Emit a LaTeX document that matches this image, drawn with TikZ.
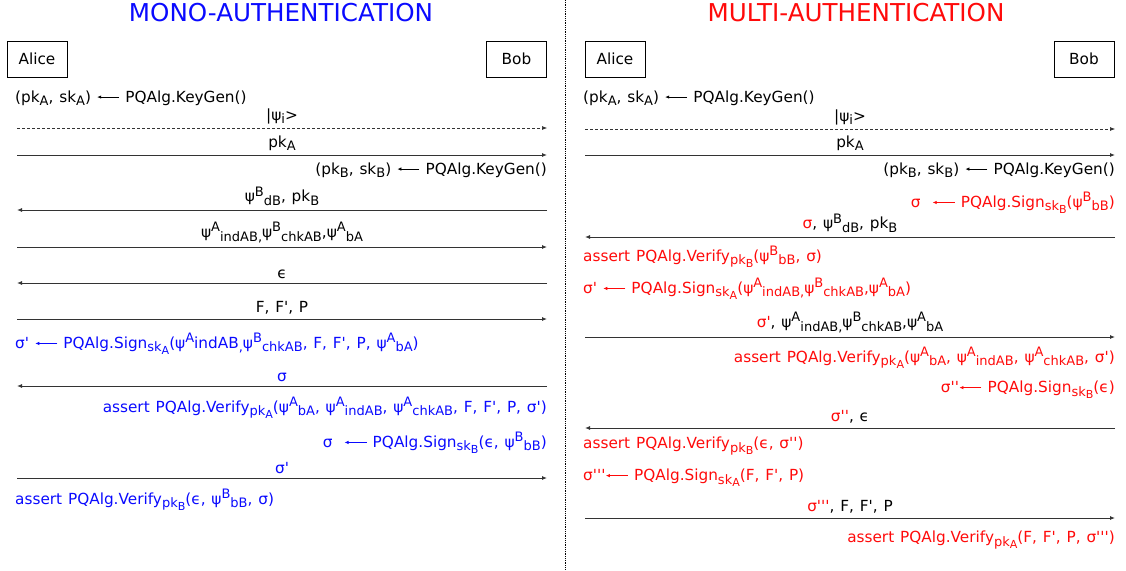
\documentclass[tikz,border=0pt]{standalone}
\usepackage{fontspec}
\usepackage{graphicx}
\newfontfamily\verd{DejaVu Sans}[WordSpace=1.2]
\usetikzlibrary{arrows.meta,positioning}
\definecolor{monoblue}{RGB}{10,10,255}
\definecolor{multired}{RGB}{255,10,10}
\tikzset{
  txt/.style      = {font=\verd\fontsize{15.3}{18}\selectfont, inner sep=0pt},
  actor/.style    = {draw, line width=0.6pt, txt, minimum width=60pt, minimum height=36pt},
  title/.style    = {font=\verd\fontsize{24.6}{28}\selectfont, inner sep=0pt},
  msg/.style      = {-{Latex[length=5pt,width=4pt]}, line width=0.9pt, black!80},
  qmsg/.style     = {msg, densely dashed, line width=0.6pt},
  msglabel/.style = {txt, above=4pt, black},
  divider/.style  = {densely dotted, line width=0.8pt},
}
\newcommand{\sbs}[1]{\raisebox{-3.4pt}{\scalebox{0.85}{#1}}}
\newcommand{\sps}[1]{\raisebox{5.8pt}{\scalebox{0.85}{#1}}}
\newcommand{\asgn}{\tikz[baseline=-0.33em]\draw[draw=., line width=0.7pt,
    -{Latex[length=4pt,width=3.5pt]}] (22pt,0pt) -- (0pt,0pt);}

\begin{document}
\begin{tikzpicture}[x=1pt,y=-1pt]
  \useasboundingbox (0,0) rectangle (1126,570);

  \draw[divider] (565,0) -- (565,570);

  % ---------------- mono-authentication -----------------------------------
  \node[title,text=monoblue] (monotitle) at (281,13) {MONO-AUTHENTICATION};
  \node[actor] (alice1) at (37,59) {Alice};
  \node[actor] (bob1) at (516.5,59) {Bob};

  \node[txt,anchor=west] (kgA1) at (15,98) {(pk\sbs{A}, sk\sbs{A}) \asgn{} PQAlg.KeyGen()};

  \coordinate (a1) at (17,128);  \coordinate (b1) at (547,128);
  \draw[qmsg] (a1) -- (b1) node[msglabel,midway] (l1) {|ψ\sbs{i}>};

  \coordinate (a2) at (17,155);  \coordinate (b2) at (547,155);
  \draw[msg] (a2) -- (b2) node[msglabel,midway] (l2) {pk\sbs{A}};

  \node[txt,anchor=east] (kgB1) at (547,170) {(pk\sbs{B}, sk\sbs{B}) \asgn{} PQAlg.KeyGen()};

  \coordinate (a3) at (17,210);  \coordinate (b3) at (547,210);
  \draw[msg] (b3) -- (a3) node[msglabel,midway] (l3) {ψ\sps{B}\sbs{dB}, pk\sbs{B}};

  \coordinate (a4) at (17,247);  \coordinate (b4) at (547,247);
  \draw[msg] (a4) -- (b4) node[msglabel,midway] (l4)
    {ψ\sps{A}\sbs{indAB,}ψ\sps{B}\sbs{chkAB},ψ\sps{A}\sbs{bA}};

  \coordinate (a5) at (17,283);  \coordinate (b5) at (547,283);
  \draw[msg] (b5) -- (a5) node[msglabel,midway] (l5) {ϵ};

  \coordinate (a6) at (17,319);  \coordinate (b6) at (547,319);
  \draw[msg] (a6) -- (b6) node[msglabel,midway] (l6) {F, F', P};

  \node[txt,anchor=west,text=monoblue] (signA1) at (15,344)
    {σ' \asgn{} PQAlg.Sign\sbs{sk\sbs{A}}(ψ\sps{A}indAB\sbs{,}ψ\sps{B}\sbs{chkAB}, F, F', P, ψ\sps{A}\sbs{bA})};

  \coordinate (a7) at (17,386);  \coordinate (b7) at (547,386);
  \draw[msg] (b7) -- (a7) node[msglabel,midway,text=monoblue] (l7) {σ};

  \node[txt,anchor=east,text=monoblue] (verB1) at (547,408)
    {assert PQAlg.Verify\sbs{pk\sbs{A}}(ψ\sps{A}\sbs{bA}, ψ\sps{A}\sbs{indAB}, ψ\sps{A}\sbs{chkAB}, F, F', P, σ')};
  \node[txt,anchor=east,text=monoblue] (signB1) at (547,443)
    {σ \ \asgn{} PQAlg.Sign\sbs{sk\sbs{B}}(ϵ, ψ\sps{B}\sbs{bB})};

  \coordinate (a8) at (17,478);  \coordinate (b8) at (547,478);
  \draw[msg] (a8) -- (b8) node[msglabel,midway,text=monoblue] (l8) {σ'};

  \node[txt,anchor=west,text=monoblue] (verA1) at (15,500)
    {assert PQAlg.Verify\sbs{pk\sbs{B}}(ϵ, ψ\sps{B}\sbs{bB}, σ)};

  % ---------------- multi-authentication ----------------------------------
  \node[title,text=multired] (multititle) at (856,13) {MULTI-AUTHENTICATION};
  \node[actor] (alice2) at (615,59) {Alice};
  \node[actor] (bob2) at (1084,59) {Bob};

  \node[txt,anchor=west] (kgA2) at (583,98) {(pk\sbs{A}, sk\sbs{A}) \asgn{} PQAlg.KeyGen()};

  \coordinate (c1) at (585,129);  \coordinate (d1) at (1115,129);
  \draw[qmsg] (c1) -- (d1) node[msglabel,midway] (k1) {|ψ\sbs{i}>};

  \coordinate (c2) at (585,155);  \coordinate (d2) at (1115,155);
  \draw[msg] (c2) -- (d2) node[msglabel,midway] (k2) {pk\sbs{A}};

  \node[txt,anchor=east] (kgB2) at (1115,170) {(pk\sbs{B}, sk\sbs{B}) \asgn{} PQAlg.KeyGen()};
  \node[txt,anchor=east,text=multired] (signB2) at (1115,203)
    {σ \ \asgn{} PQAlg.Sign\sbs{sk\sbs{B}}(ψ\sps{B}\sbs{bB})};

  \coordinate (c3) at (585,237);  \coordinate (d3) at (1115,237);
  \draw[msg] (d3) -- (c3) node[msglabel,midway] (k3)
    {\textcolor{multired}{σ}, ψ\sps{B}\sbs{dB}, pk\sbs{B}};

  \node[txt,anchor=west,text=multired] (verA2) at (583,257)
    {assert PQAlg.Verify\sbs{pk\sbs{B}}(ψ\sps{B}\sbs{bB}, σ)};
  \node[txt,anchor=west,text=multired] (signA2) at (583,289)
    {σ' \asgn{} PQAlg.Sign\sbs{sk\sbs{A}}(ψ\sps{A}\sbs{indAB,}ψ\sps{B}\sbs{chkAB},ψ\sps{A}\sbs{bA})};

  \coordinate (c4) at (585,337);  \coordinate (d4) at (1115,337);
  \draw[msg] (c4) -- (d4) node[msglabel,midway] (k4)
    {\textcolor{multired}{σ'}, ψ\sps{A}\sbs{indAB,}ψ\sps{B}\sbs{chkAB},ψ\sps{A}\sbs{bA}};

  \node[txt,anchor=east,text=multired] (verB2) at (1115,358)
    {assert PQAlg.Verify\sbs{pk\sbs{A}}(ψ\sps{A}\sbs{bA}, ψ\sps{A}\sbs{indAB}, ψ\sps{A}\sbs{chkAB}, σ')};
  \node[txt,anchor=east,text=multired] (signB3) at (1115,390)
    {σ''\asgn{} PQAlg.Sign\sbs{sk\sbs{B}}(ϵ)};

  \coordinate (c5) at (585,428);  \coordinate (d5) at (1115,428);
  \draw[msg] (d5) -- (c5) node[msglabel,midway] (k5) {\textcolor{multired}{σ''}, ϵ};

  \node[txt,anchor=west,text=multired] (verA3) at (583,446)
    {assert PQAlg.Verify\sbs{pk\sbs{B}}(ϵ, σ'')};
  \node[txt,anchor=west,text=multired] (signA3) at (583,478)
    {σ'''\asgn{} PQAlg.Sign\sbs{sk\sbs{A}}(F, F', P)};

  \coordinate (c6) at (585,518);  \coordinate (d6) at (1115,518);
  \draw[msg] (c6) -- (d6) node[msglabel,midway] (k6) {\textcolor{multired}{σ'''}, F, F', P};

  \node[txt,anchor=east,text=multired] (verB3) at (1115,540)
    {assert PQAlg.Verify\sbs{pk\sbs{A}}(F, F', P, σ''')};
\end{tikzpicture}
\end{document}
